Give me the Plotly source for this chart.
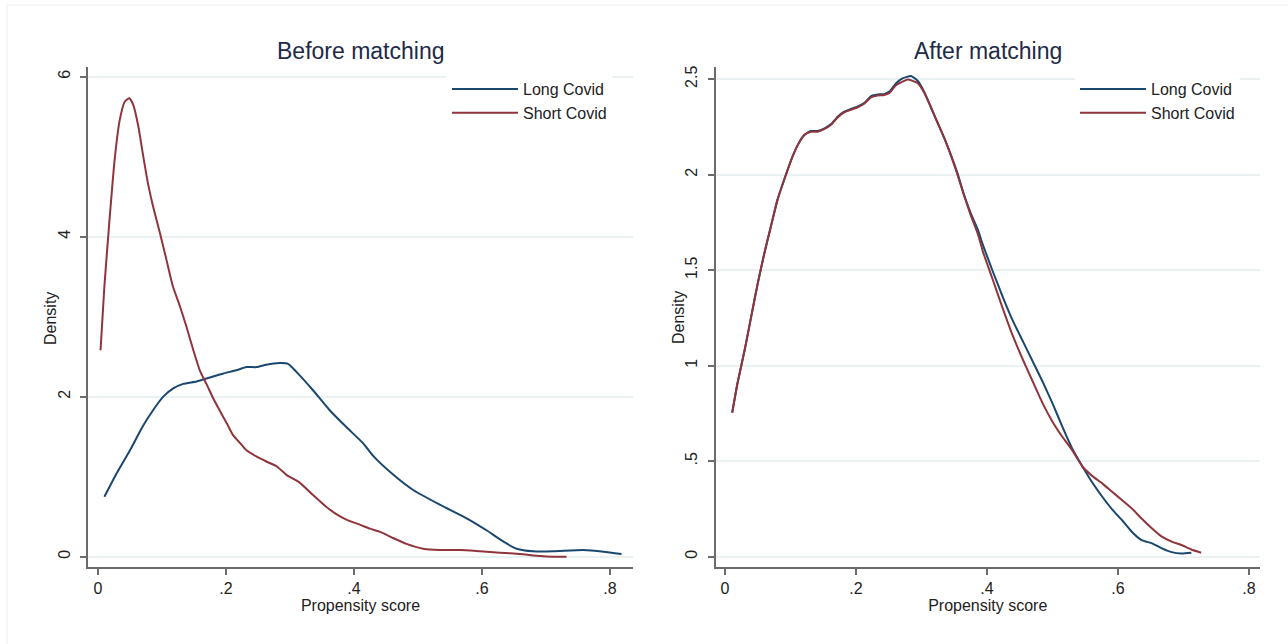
import plotly.graph_objects as go

# ---------------- data ----------------
# Before matching - Long Covid
before_long_x = [0.010, 0.029, 0.050, 0.070, 0.086, 0.102, 0.117, 0.133, 0.154, 0.175,
                 0.196, 0.216, 0.232, 0.248, 0.263, 0.284, 0.297, 0.310, 0.336, 0.362,
                 0.388, 0.414, 0.430, 0.462, 0.493, 0.534, 0.576, 0.607, 0.633, 0.654,
                 0.680, 0.711, 0.758, 0.790, 0.818]
before_long_y = [0.75, 1.04, 1.33, 1.63, 1.83, 2.00, 2.10, 2.16, 2.19, 2.24,
                 2.29, 2.33, 2.37, 2.37, 2.40, 2.42, 2.41, 2.31, 2.08, 1.83,
                 1.62, 1.42, 1.26, 1.02, 0.83, 0.65, 0.48, 0.33, 0.19, 0.10,
                 0.067, 0.067, 0.083, 0.063, 0.033]

# Before matching - Short Covid
before_short_x = [0.004, 0.010, 0.018, 0.026, 0.034, 0.042, 0.049, 0.055, 0.063, 0.070,
                  0.078, 0.086, 0.097, 0.107, 0.117, 0.128, 0.138, 0.149, 0.159, 0.170,
                  0.180, 0.190, 0.201, 0.211, 0.222, 0.232, 0.248, 0.263, 0.279, 0.295,
                  0.316, 0.336, 0.357, 0.373, 0.389, 0.409, 0.425, 0.441, 0.462, 0.482,
                  0.508, 0.534, 0.566, 0.597, 0.628, 0.659, 0.691, 0.711, 0.732]
before_short_y = [2.58, 3.38, 4.21, 4.96, 5.46, 5.69, 5.73, 5.65, 5.38, 5.04,
                  4.67, 4.38, 4.04, 3.71, 3.38, 3.13, 2.88, 2.58, 2.33, 2.15,
                  1.98, 1.83, 1.67, 1.52, 1.42, 1.33, 1.25, 1.19, 1.13, 1.02,
                  0.92, 0.77, 0.62, 0.53, 0.46, 0.40, 0.35, 0.31, 0.23, 0.16,
                  0.10, 0.083, 0.083, 0.067, 0.050, 0.033, 0.008, 0.0, 0.0]

# After matching - Long Covid
after_long_x = [0.011, 0.019, 0.030, 0.040, 0.050, 0.060, 0.070, 0.080, 0.091, 0.101,
                0.111, 0.121, 0.131, 0.141, 0.152, 0.162, 0.172, 0.182, 0.192, 0.202,
                0.213, 0.223, 0.233, 0.243, 0.251, 0.261, 0.271, 0.284, 0.294, 0.304,
                0.314, 0.324, 0.335, 0.345, 0.355, 0.365, 0.375, 0.386, 0.394, 0.409,
                0.424, 0.439, 0.455, 0.470, 0.485, 0.500, 0.515, 0.530, 0.546, 0.561,
                0.576, 0.591, 0.606, 0.621, 0.636, 0.652, 0.667, 0.682, 0.697, 0.712]
after_long_y = [0.754, 0.907, 1.082, 1.257, 1.431, 1.588, 1.728, 1.867, 1.980, 2.077,
                2.155, 2.208, 2.229, 2.229, 2.243, 2.265, 2.304, 2.330, 2.344, 2.356,
                2.377, 2.412, 2.420, 2.422, 2.435, 2.478, 2.504, 2.517, 2.492, 2.435,
                2.356, 2.277, 2.190, 2.103, 2.007, 1.895, 1.800, 1.712, 1.630, 1.492,
                1.361, 1.239, 1.126, 1.021, 0.916, 0.803, 0.681, 0.567, 0.471, 0.387,
                0.314, 0.248, 0.192, 0.131, 0.087, 0.070, 0.044, 0.024, 0.017, 0.021]

# After matching - Short Covid
after_short_x = [0.011, 0.019, 0.030, 0.040, 0.050, 0.060, 0.070, 0.080, 0.091, 0.101,
                 0.111, 0.121, 0.131, 0.141, 0.152, 0.162, 0.172, 0.182, 0.192, 0.202,
                 0.213, 0.223, 0.233, 0.243, 0.251, 0.261, 0.271, 0.279, 0.294, 0.304,
                 0.314, 0.324, 0.335, 0.345, 0.355, 0.365, 0.375, 0.386, 0.394, 0.409,
                 0.424, 0.439, 0.455, 0.470, 0.485, 0.500, 0.515, 0.530, 0.546, 0.561,
                 0.576, 0.591, 0.606, 0.621, 0.636, 0.652, 0.667, 0.682, 0.697, 0.712,
                 0.727]
after_short_y = [0.754, 0.907, 1.082, 1.257, 1.431, 1.588, 1.728, 1.867, 1.980, 2.077,
                 2.155, 2.208, 2.225, 2.225, 2.240, 2.262, 2.300, 2.326, 2.340, 2.352,
                 2.373, 2.405, 2.415, 2.417, 2.428, 2.468, 2.487, 2.499, 2.480, 2.430,
                 2.356, 2.277, 2.190, 2.100, 2.000, 1.890, 1.790, 1.690, 1.595, 1.449,
                 1.300, 1.160, 1.030, 0.916, 0.803, 0.707, 0.628, 0.558, 0.471, 0.422,
                 0.384, 0.340, 0.297, 0.253, 0.200, 0.148, 0.105, 0.079, 0.061, 0.038,
                 0.021]

x_tickvals = [0, 0.2, 0.4, 0.6, 0.8]
x_ticktext = ["0", ".2", ".4", ".6", ".8"]
y1_tickvals = [0, 2, 4, 6]
y1_ticktext = ["0", "2", "4", "6"]
y2_tickvals = [0, 0.5, 1, 1.5, 2, 2.5]
y2_ticktext = ["0", ".5", "1", "1.5", "2", "2.5"]

series_names = ["Long Covid", "Short Covid"]
panel_titles = ["Before matching", "After matching"]
x_title = "Propensity score"
y_title = "Density"

# ---------------- style ----------------
NAVY = "#1a476f"
MAROON = "#90353b"
FONT = "Liberation Sans, Arial, sans-serif"
TXT = "#222222"
AXC = "#6b6b6b"
GRID = "#e9f1f2"
W, H = 1288, 644

fig = go.Figure()

def add(x, y, name, color, xa, ya, leg):
    fig.add_trace(go.Scatter(
        x=x, y=y, name=name, mode="lines",
        line=dict(color=color, width=2, shape="spline", smoothing=0.5),
        xaxis=xa, yaxis=ya, legend=leg, legendgroup=leg + name,
        hoverinfo="skip"))

add(before_long_x, before_long_y, series_names[0], NAVY, "x", "y", "legend")
add(before_short_x, before_short_y, series_names[1], MAROON, "x", "y", "legend")
add(after_long_x, after_long_y, series_names[0], NAVY, "x2", "y2", "legend2")
add(after_short_x, after_short_y, series_names[1], MAROON, "x2", "y2", "legend2")

ydom = [1 - 567 / H, 1 - 67 / H]
L_DOM = [88 / W, 633 / W]
R_DOM = [715.5 / W, 1260 / W]

axis_common = dict(
    showline=True, linecolor=AXC, linewidth=1.5,
    ticks="outside", ticklen=6, tickwidth=1.5, tickcolor=AXC,
    zeroline=False, mirror=False,
    tickfont=dict(family=FONT, size=16, color=TXT),
    title_font=dict(family=FONT, size=16, color=TXT),
)

legend_common = dict(
    y=1 - 72 / H, xanchor="left", yanchor="top",
    bgcolor="white", borderwidth=0, itemwidth=66,
    font=dict(family=FONT, size=16, color=TXT),
    traceorder="grouped", tracegroupgap=0,
)

def text_ann(text, x_px, y_px, size, color, angle=0):
    return dict(text=text, x=x_px / W, y=1 - y_px / H,
                xref="paper", yref="paper", xanchor="center", yanchor="middle",
                showarrow=False, textangle=angle,
                font=dict(family=FONT, size=size, color=color))

fig.update_layout(
    width=W, height=H,
    margin=dict(l=0, r=0, t=0, b=0),
    paper_bgcolor="white", plot_bgcolor="white",
    showlegend=True,
    xaxis=dict(domain=L_DOM, range=[-0.0156, 0.8359],
               tickvals=x_tickvals, ticktext=x_ticktext, showgrid=False,
               title=dict(text=x_title, standoff=4), anchor="y",
               **axis_common),
    yaxis=dict(domain=ydom, range=[-0.129, 6.121],
               tickvals=y1_tickvals, ticktext=y1_ticktext, tickangle=-90,
               ticklabelstandoff=4,
               showgrid=True, gridcolor=GRID, gridwidth=1.5, anchor="x",
               **axis_common),
    xaxis2=dict(domain=R_DOM, range=[-0.0145, 0.8168],
                tickvals=x_tickvals, ticktext=x_ticktext, showgrid=False,
                title=dict(text=x_title, standoff=4), anchor="y2",
                **axis_common),
    yaxis2=dict(domain=ydom, range=[-0.0539, 2.564],
                tickvals=y2_tickvals, ticktext=y2_ticktext, tickangle=-90,
                ticklabelstandoff=4,
                showgrid=True, gridcolor=GRID, gridwidth=1.5, anchor="x2",
                **axis_common),
    legend=dict(x=447 / W, **legend_common),
    legend2=dict(x=1075 / W, **legend_common),
    annotations=[
        text_ann(panel_titles[0], (L_DOM[0] + L_DOM[1]) / 2 * W, 51, 23, "#1e2a48"),
        text_ann(panel_titles[1], (R_DOM[0] + R_DOM[1]) / 2 * W, 51, 23, "#1e2a48"),
        text_ann(y_title, 50, 318, 16, TXT, -90),
        text_ann(y_title, 678, 318, 16, TXT, -90),
    ],
    shapes=[
        dict(type="rect", xref="paper", yref="paper",
             x0=7 / W, x1=1.02, y0=-0.02, y1=1 - 5 / H,
             line=dict(color="#eeeeee", width=1), layer="below"),
    ],
)

fig.write_html("out.html", config={"displayModeBar": False},
               post_script="document.body.style.margin='0';")
